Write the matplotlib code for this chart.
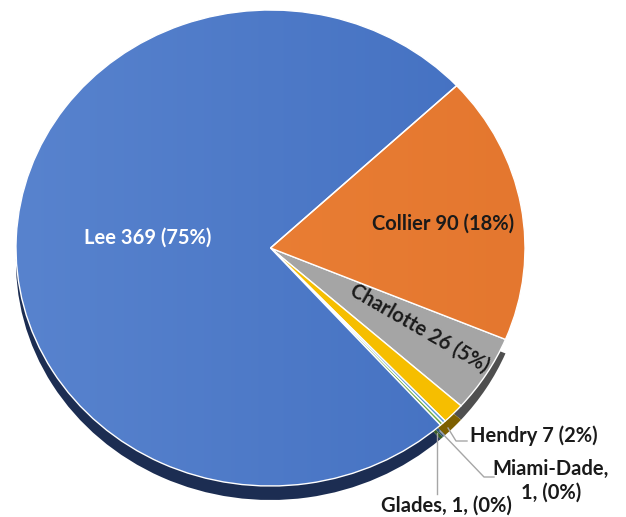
import matplotlib
matplotlib.use("Agg")
import matplotlib.pyplot as plt
import numpy as np
from matplotlib.colors import LinearSegmentedColormap

counties = ["Collier", "Charlotte", "Hendry", "Miami-Dade", "Glades", "Lee"]
counts = [90, 26, 7, 1, 1, 369]
percents = [18, 5, 2, 0, 0, 75]
top_colors = ["#E97D33", "#A5A5A5", "#F6BE00", "#5B9BD5", "#70AD47", "#4A76C5"]
side_colors = ["none", "#4F4F4F", "#7D6000", "#2E5577", "#3A5E24", "#1C2D52"]
gradients = {"Lee": ("#5883CE", "#4370C1"), "Collier": ("#EE8438", "#E4772F")}

W, H = 626, 517
CX, CY, RX, RY = 270.5, 248.0, 254.5, 238.0
DEPTH = 14

fig = plt.figure(figsize=(W / 100, H / 100), dpi=100)
ax = fig.add_axes([0, 0, 1, 1])


def px(x, y):
    return ((x - CX) / RX, (CY - y) / RY)


# side (thickness) of the pie
ax.pie(counts, colors=side_colors, startangle=43, counterclock=False,
       center=(0, -DEPTH / RY), radius=1.0,
       wedgeprops=dict(linewidth=0))
# top surface
wedges, _ = ax.pie(counts, colors=top_colors, startangle=43, counterclock=False,
                   center=(0, 0), radius=1.0,
                   wedgeprops=dict(edgecolor="white", linewidth=1.0))
for w in wedges:
    w.set_zorder(2)

x0, x1 = px(0, 0)[0], px(W, 0)[0]
y0, y1 = px(0, H)[1], px(0, 0)[1]

grad = np.linspace(0, 1, 256).reshape(1, -1)
for c, w in zip(counties, wedges):
    if c in gradients:
        cmap = LinearSegmentedColormap.from_list(c, list(gradients[c]))
        im = ax.imshow(grad, cmap=cmap, extent=(-1, 1, -1, 1), aspect="auto",
                       zorder=2.5, interpolation="bilinear")
        im.set_clip_path(w)
        w.set_zorder(3)
        w.set_facecolor("none")

ax.set_aspect("auto")
ax.set_xlim(x0, x1)
ax.set_ylim(y0, y1)
ax.axis("off")

font = dict(family=["Lato", "DejaVu Sans"], fontweight="bold", fontsize=14.5)

lbl = {c: f"{c} {n} ({p}%)" for c, n, p in zip(counties, counts, percents)}

ax.text(*px(148, 238), lbl["Lee"], color="white", ha="center", va="center", zorder=5, **font)
ax.text(*px(443, 224), lbl["Collier"], color="#1a1a1a", ha="center", va="center", zorder=5, **font)
ax.text(*px(420, 328), lbl["Charlotte"], color="#1a1a1a", ha="center", va="center",
        rotation=-30, rotation_mode="anchor", zorder=5, **font)
ax.text(*px(470, 436), lbl["Hendry"], color="#1a1a1a", ha="left", va="center", zorder=5, **font)
ax.text(*px(551, 481), f"Miami-Dade,\n{counts[3]}, ({percents[3]}%)", color="#1a1a1a",
        ha="center", va="center", linespacing=1.2, zorder=5, **font)
ax.text(*px(446, 506), f"Glades, {counts[4]}, ({percents[4]}%)", color="#1a1a1a",
        ha="center", va="center", zorder=5, **font)

lc = "#A6A6A6"
def leader(points):
    xs, ys = zip(*[px(x, y) for x, y in points])
    ax.plot(xs, ys, color=lc, linewidth=1.0, zorder=4)

leader([(448, 428), (456, 441), (467, 441)])
leader([(440, 431), (484, 477), (494, 477)])
leader([(437, 433), (437, 494)])

fig.savefig("out.png", dpi=100)
